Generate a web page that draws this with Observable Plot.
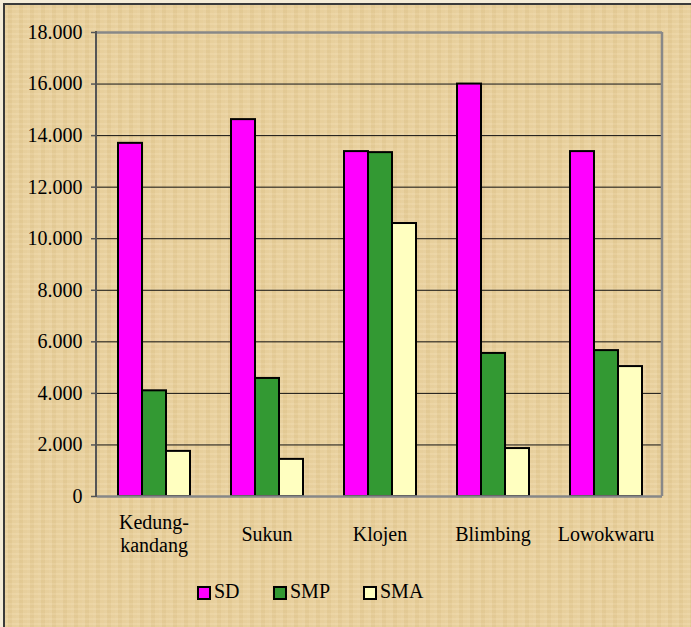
<!DOCTYPE html>
<html>
<head>
<meta charset="utf-8">
<script src="https://cdn.jsdelivr.net/npm/d3@7"></script>
<script src="https://cdn.jsdelivr.net/npm/@observablehq/plot@0.6"></script>
<style>
  html, body { margin: 0; padding: 0; }
  body { width: 691px; height: 627px; overflow: hidden; position: relative; background: #f4ecd8;
         font-family: "Liberation Serif", "Times New Roman", serif; }
  #bg { position: absolute; left: 3px; top: 3px; width: 700px; height: 640px;
        border-top: 2px solid #3a3a3a; border-left: 2px solid #3a3a3a;
        background-color: #EAD19C;
        background-image:
          repeating-linear-gradient(90deg, rgba(255,255,255,0.07) 0 3px, rgba(120,90,30,0.035) 3px 7px, rgba(255,255,255,0.04) 7px 11px),
          repeating-linear-gradient(0deg, rgba(255,255,255,0.05) 0 2px, rgba(120,90,30,0.03) 2px 5px); }
  #chart { position: absolute; left: 0; top: 0; }
  #legend { position: absolute; left: 0; top: 582px; width: 691px; height: 24px; }
  .sw { position: absolute; top: 4px; width: 10px; height: 10px; border: 2px solid #000; }
  .lb { position: absolute; top: -3px; font-size: 20px; line-height: 24px; color: #000; font-family: "Liberation Serif", serif; }
</style>
</head>
<body>
<div id="bg"></div>
<div id="chart"></div>
<div id="legend"></div>
<script>
const districts = ["Kedungkandang", "Sukun", "Klojen", "Blimbing", "Lowokwaru"];
const districtLabels = ["Kedung-\nkandang", "Sukun", "Klojen", "Blimbing", "Lowokwaru"];
const series = ["SD", "SMP", "SMA"];
const sdValues  = [13700, 14620, 13380, 16000, 13380];
const smpValues = [4100, 4580, 13340, 5550, 5660];
const smaValues = [1750, 1440, 10590, 1860, 5040];
const yTicks = [0, 2000, 4000, 6000, 8000, 10000, 12000, 14000, 16000, 18000];
const colors = ["#FF00FF", "#339933", "#FFFFC0"];

const data = districts.flatMap((d, i) => [
  {district: d, level: "SD", value: sdValues[i]},
  {district: d, level: "SMP", value: smpValues[i]},
  {district: d, level: "SMA", value: smaValues[i]}
]);

const fmt = d3.formatLocale({decimal: ",", thousands: ".", grouping: [3], currency: ["", ""]}).format(",");

const chart = Plot.plot({
  width: 691,
  height: 560,
  marginLeft: 96,
  marginRight: 29,
  marginTop: 32,
  marginBottom: 64,
  style: {background: "transparent", fontFamily: "Liberation Serif, serif", fontSize: "20px", color: "#000", overflow: "visible"},
  fx: {domain: districts, paddingInner: 0, paddingOuter: 0, axis: null, label: null},
  x: {domain: series, paddingInner: 0, paddingOuter: 0.764, axis: null},
  y: {domain: [0, 18000], axis: null},
  color: {domain: series, range: colors},
  marks: [
    Plot.ruleY(yTicks.slice(1, -1), {stroke: "#111", strokeWidth: 1}),
    Plot.barY(data, {fx: "district", x: "level", y: "value", fill: "level", stroke: "#000", strokeWidth: 2, inset: 0}),
    Plot.ruleY([18000], {stroke: "#888", strokeWidth: 2.5}),
    Plot.ruleY([0], {stroke: "#888", strokeWidth: 2.5}),
    Plot.axisY({ticks: yTicks, tickFormat: fmt, tickSize: 6, tickPadding: 9, stroke: "#555", strokeWidth: 1.5, fontSize: 20, fontFamily: "Liberation Serif, serif", label: null}),
    Plot.text(districts, {fx: d => d, text: d => districtLabels[districts.indexOf(d)], frameAnchor: "bottom", dy: 37, lineAnchor: "middle", lineHeight: 1.15, fontSize: 20, fontFamily: "Liberation Serif, serif", fill: "#000"})
  ]
});

// plot-area side borders, placed through the chart's own scales
const fxRange = chart.scale("fx").range;
const yRange = chart.scale("y").range;
const svg = d3.select(chart);
svg.append("line")
  .attr("x1", fxRange[1]).attr("x2", fxRange[1])
  .attr("y1", yRange[0]).attr("y2", yRange[1])
  .attr("stroke", "#888").attr("stroke-width", 2.5);
svg.append("line")
  .attr("x1", fxRange[0]).attr("x2", fxRange[0])
  .attr("y1", yRange[0] + 1).attr("y2", yRange[1] - 1)
  .attr("stroke", "#555").attr("stroke-width", 2);
document.getElementById("chart").appendChild(chart);

const legendX = [197, 273, 363];
const legend = document.getElementById("legend");
series.forEach((s, i) => {
  const sw = document.createElement("div");
  sw.className = "sw";
  sw.style.left = legendX[i] + "px";
  sw.style.background = colors[i];
  legend.appendChild(sw);
  const lb = document.createElement("div");
  lb.className = "lb";
  lb.style.left = (legendX[i] + 17) + "px";
  lb.textContent = s;
  legend.appendChild(lb);
});
</script>
</body>
</html>
